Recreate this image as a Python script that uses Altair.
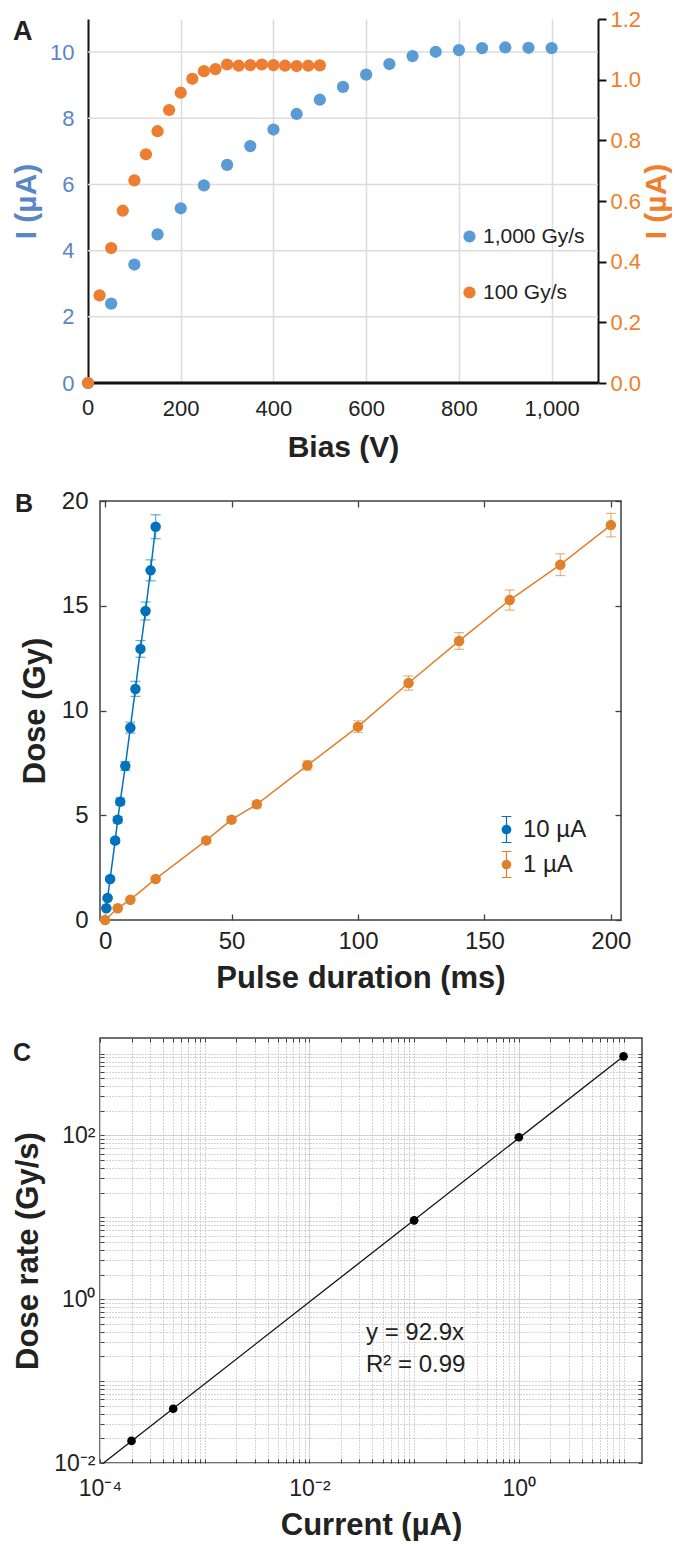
import altair as alt
import pandas as pd

FONT = "Liberation Sans"
TXT = "#222222"

# ---------------- Panel A data ----------------
bias_1000 = [0, 50, 100, 150, 200, 250, 300, 350, 400, 450, 500, 550, 600, 650, 700,
             750, 800, 850, 900, 950, 1000]
cur_1000 = [0.0, 2.40, 3.58, 4.49, 5.28, 5.97, 6.59, 7.16, 7.66, 8.13, 8.56, 8.95, 9.32,
            9.64, 9.88, 10.01, 10.06, 10.12, 10.14, 10.13, 10.12]
bias_100 = [0, 25, 50, 75, 100, 125, 150, 175, 200, 225, 250, 275, 300, 325, 350, 375,
            400, 425, 450, 475, 500]
cur_100 = [0.0, 0.289, 0.445, 0.568, 0.668, 0.754, 0.830, 0.900, 0.957, 1.003, 1.028,
           1.035, 1.050, 1.046, 1.048, 1.050, 1.048, 1.046, 1.045, 1.046, 1.047]
series_A = ["1,000 Gy/s", "100 Gy/s"]
bias_ticks = [0, 200, 400, 600, 800, 1000]
left_ticks = [0, 2, 4, 6, 8, 10]
right_ticks = [0.0, 0.2, 0.4, 0.6, 0.8, 1.0, 1.2]

# ---------------- Panel B data ----------------
dur_10 = [0.5, 1, 2, 4, 5, 6, 8, 10, 12, 14, 16, 18, 20]
dose_10 = [0.56, 1.05, 1.96, 3.79, 4.79, 5.65, 7.35, 9.18, 11.03, 12.94, 14.75, 16.69, 18.77]
err_10 = [0.04, 0.05, 0.08, 0.12, 0.15, 0.17, 0.21, 0.26, 0.36, 0.40, 0.43, 0.50, 0.57]
dur_1 = [0, 5, 10, 20, 40, 50, 60, 80, 100, 120, 140, 160, 180, 200]
dose_1 = [0.0, 0.56, 0.97, 1.96, 3.80, 4.79, 5.52, 7.38, 9.23, 11.31, 13.32, 15.27, 16.96, 18.85]
err_1 = [0.02, 0.03, 0.04, 0.07, 0.12, 0.15, 0.17, 0.22, 0.28, 0.34, 0.40, 0.48, 0.52, 0.56]
series_B = ["10 µA", "1 µA"]
dur_ticks = [0, 50, 100, 150, 200]
dose_ticks = [0, 5, 10, 15, 20]

# ---------------- Panel C data ----------------
current = [2e-4, 5e-4, 0.1, 1.0, 10.0]
rate = [0.0186, 0.046, 9.2, 95.0, 925.0]
fit_current = [1.08e-4, 10.0]
fit_rate = [0.01, 929.0]
fit_text = ["y = 92.9x", "R² = 0.99"]

# ====================== Panel A ======================
A_BLUE, A_ORANGE = "#5B9BD5", "#ED7D31"
A_BLUE_T, A_ORANGE_T = "#5A86C6", "#F07E2A"
GRID_A = "#dcdcdc"
SHIFT = 12            # panel A axis sits 12px left of the common origin
A_W = 498
PX_PER_V = (A_W + SHIFT) / 1100.0
X_MIN = SHIFT / PX_PER_V

dfA1 = pd.DataFrame({"bias": bias_1000, "cur": cur_1000, "series": series_A[0]})
dfA2 = pd.DataFrame({"bias": bias_100, "cur": cur_100, "series": series_A[1]})
dfGrid = pd.DataFrame({"x0": bias_ticks[0], "x1": 1100, "y": left_ticks[1:]})
dfBase = pd.DataFrame({"x0": [bias_ticks[0]], "x1": [1100], "y": [left_ticks[0]],
                       "lab": [str(bias_ticks[0])]})

colorA = alt.Color(
    "series:N",
    scale=alt.Scale(domain=series_A, range=[A_BLUE, A_ORANGE]),
    legend=alt.Legend(title=None, orient="none", legendX=359, legendY=207,
                      symbolType="circle", symbolSize=150, symbolOpacity=1,
                      symbolStrokeWidth=0, labelFont=FONT, labelFontSize=21,
                      labelColor=TXT, rowPadding=34, labelOffset=3, padding=0),
)
sxA = alt.Scale(domain=[X_MIN, 1100], nice=False, zero=False)
syA = alt.Scale(domain=[0, 11], nice=False)
axA_x = alt.Axis(values=bias_ticks[1:], format=",d", title="Bias (V)", grid=True,
                 gridColor=GRID_A, gridWidth=1.5, ticks=False, domain=False,
                 labelFont=FONT, labelFontSize=22, labelColor=TXT, labelPadding=15,
                 labelFlush=False, titleFont=FONT, titleFontSize=30,
                 titleFontWeight="bold", titleColor=TXT, titlePadding=13,
                 titleX=(A_W + SHIFT) / 2 - SHIFT)
axA_y = alt.Axis(orient="left", values=left_ticks, title="I (µA)", grid=False,
                 ticks=False, domainColor="#111", domainWidth=2, offset=SHIFT,
                 labelFont=FONT, labelFontSize=22, labelColor=A_BLUE_T, labelPadding=14,
                 titleFont=FONT, titleFontSize=30, titleFontWeight="bold",
                 titleColor=A_BLUE_T, titlePadding=8)


def xa(field):
    return alt.X(f"{field}:Q", scale=sxA, axis=axA_x)


def ya(field):
    return alt.Y(f"{field}:Q", scale=syA, axis=axA_y)


gridA = alt.Chart(dfGrid).mark_rule(color=GRID_A, strokeWidth=1.5).encode(
    x=xa("x0"), x2="x1:Q", y=ya("y"))
baseA = alt.Chart(dfBase).mark_rule(color="#111", strokeWidth=3).encode(
    x=xa("x0"), x2="x1:Q", y=ya("y"))
zeroLab = alt.Chart(dfBase).mark_text(font=FONT, fontSize=22, color=TXT, baseline="top",
                                      align="center", dy=15).encode(
    x=xa("x0"), y=ya("y"), text="lab:N")
blueA = alt.Chart(dfA1).mark_circle(size=150, opacity=1).encode(
    x=xa("bias"), y=ya("cur"), color=colorA)
letterA = alt.Chart(pd.DataFrame({"t": ["A"]})).mark_text(
    font=FONT, fontSize=27, fontWeight="bold", align="left", baseline="alphabetic",
    color=TXT).encode(text="t:N", x=alt.value(-87), y=alt.value(21))
leftA = alt.layer(gridA, baseA, zeroLab, blueA, letterA)

orangeA = alt.Chart(dfA2).mark_circle(size=150, opacity=1).encode(
    x=xa("bias"),
    y=alt.Y("cur:Q", scale=alt.Scale(domain=[0, 1.2], nice=False),
            axis=alt.Axis(orient="right", values=right_ticks, format=".1f", title="I (µA)",
                          grid=False, ticks=True, tickColor="#111", tickWidth=2, tickSize=8,
                          domainColor="#111", domainWidth=2, labelFont=FONT,
                          labelFontSize=22, labelColor=A_ORANGE_T, labelPadding=4,
                          titleFont=FONT, titleFontSize=30, titleFontWeight="bold",
                          titleColor=A_ORANGE_T, titleAngle=270, titleBaseline="top",
                          titlePadding=1)),
    color=colorA,
)

panelA = alt.layer(leftA, orangeA).resolve_scale(y="independent").properties(
    width=A_W, height=364)

# ====================== Panel B ======================
B_BLUE, B_ORANGE = "#0072BD", "#E0802A"
dfB = pd.concat([
    pd.DataFrame({"dur": dur_10, "dose": dose_10, "err": err_10, "series": series_B[0]}),
    pd.DataFrame({"dur": dur_1, "dose": dose_1, "err": err_1, "series": series_B[1]}),
], ignore_index=True)
dfB["lo"] = dfB["dose"] - dfB["err"]
dfB["hi"] = dfB["dose"] + dfB["err"]

ERR_SYM = ("M0.36,0A0.36,0.36,0,1,1,-0.36,0A0.36,0.36,0,1,1,0.36,0Z"
           "M-0.045,-1L0.045,-1L0.045,1L-0.045,1Z"
           "M-0.36,-1L0.36,-1L0.36,-0.92L-0.36,-0.92Z"
           "M-0.36,0.92L0.36,0.92L0.36,1L-0.36,1Z")
legendB = alt.Legend(title=None, orient="none", legendX=393, legendY=315,
                     symbolType=ERR_SYM, symbolSize=729, symbolOpacity=1,
                     symbolStrokeWidth=0, labelFont=FONT, labelFontSize=24,
                     labelColor=TXT, rowPadding=8, labelOffset=3, padding=0)
colorB = alt.Color("series:N", scale=alt.Scale(domain=series_B, range=[B_BLUE, B_ORANGE]),
                   legend=legendB)
sxB = alt.Scale(domain=[-2, 204], nice=False, zero=False)
syB = alt.Scale(domain=[0, 20], nice=False)
FRAME = "#404040"
axB_x = alt.Axis(orient="bottom", values=dur_ticks, title="Pulse duration (ms)", grid=False,
                 domain=False, ticks=True, tickSize=6, tickColor=FRAME, tickWidth=1.3,
                 offset=-6, labelFont=FONT, labelFontSize=24, labelColor=TXT,
                 labelPadding=9, labelFlush=False, titleFont=FONT, titleFontSize=31,
                 titleFontWeight="bold", titleColor=TXT, titlePadding=10)
axB_y = alt.Axis(orient="left", values=dose_ticks, title="Dose (Gy)", grid=False,
                 domain=False, ticks=True, tickSize=6, tickColor=FRAME, tickWidth=1.3,
                 offset=-6, labelFont=FONT, labelFontSize=24, labelColor=TXT,
                 labelPadding=12, titleFont=FONT, titleFontSize=31,
                 titleFontWeight="bold", titleColor=TXT, titlePadding=10)


def xb():
    return alt.X("dur:Q", scale=sxB, axis=axB_x)


def yb(field):
    return alt.Y(f"{field}:Q", scale=syB, axis=axB_y)


baseB = alt.Chart(dfB)
linesB = baseB.mark_line(strokeWidth=1.5).encode(x=xb(), y=yb("dose"), color=colorB)
barsB = baseB.mark_rule(strokeWidth=1.2, opacity=0.6).encode(
    x=xb(), y=yb("lo"), y2="hi:Q", color=colorB)
capLoB = baseB.mark_tick(orient="horizontal", size=10, thickness=1.2, opacity=0.6).encode(
    x=xb(), y=yb("lo"), color=colorB)
capHiB = baseB.mark_tick(orient="horizontal", size=10, thickness=1.2, opacity=0.6).encode(
    x=xb(), y=yb("hi"), color=colorB)
ptsB = baseB.mark_circle(size=110, opacity=1).encode(x=xb(), y=yb("dose"), color=colorB)
letterB = alt.Chart(pd.DataFrame({"t": ["B"]})).mark_text(
    font=FONT, fontSize=25, fontWeight="bold", align="left", baseline="alphabetic",
    color=TXT).encode(text="t:N", x=alt.value(-85), y=alt.value(11))
mainB = alt.layer(linesB, barsB, capLoB, capHiB, ptsB, letterB)
ticksB = baseB.mark_point(opacity=0).encode(
    x=alt.X("dur:Q", scale=sxB,
            axis=alt.Axis(orient="top", values=dur_ticks, labels=False, title=None,
                          domain=False, grid=False, tickSize=6, tickColor=FRAME,
                          tickWidth=1.3, offset=-6)),
    y=alt.Y("dose:Q", scale=syB,
            axis=alt.Axis(orient="right", values=dose_ticks, labels=False, title=None,
                          domain=False, grid=False, tickSize=6, tickColor=FRAME,
                          tickWidth=1.3, offset=-6)),
)
panelB = alt.layer(mainB, ticksB).resolve_axis(x="independent", y="independent").properties(
    width=521, height=419, view=alt.ViewBackground(stroke=FRAME, strokeWidth=1.5))

# ====================== Panel C ======================
dfC = pd.DataFrame({"cur": current, "rate": rate})
dfFit = pd.DataFrame({"cur": fit_current, "rate": fit_rate})

x_vals = [k * 10.0 ** e for e in range(-4, 2) for k in range(1, 10) if k * 10.0 ** e <= 15]
y_vals = [k * 10.0 ** e for e in range(-2, 4) for k in range(1, 10) if k * 10.0 ** e <= 1550]
L10 = "(log(datum.value)/LN10)"
MAJ = f"abs({L10}/2 - round({L10}/2)) < 0.001"
LAB = (f"{MAJ} ? (round({L10}) == -4 ? '10⁻⁴' : round({L10}) == -2 ? '10⁻²' : "
       f"round({L10}) == 0 ? '10⁰' : round({L10}) == 2 ? '10²' : '') : ''")
grid_dash = {"condition": {"test": MAJ, "value": []}, "value": [1, 2]}
grid_col = {"condition": {"test": MAJ, "value": "#d0d0d0"}, "value": "#a8a8a8"}

sxC = alt.Scale(type="log", domain=[1e-4, 15], nice=False)
syC = alt.Scale(type="log", domain=[0.01, 1550], nice=False)
axC_x = alt.Axis(orient="bottom", values=x_vals, labelExpr=LAB, title="Current (µA)",
                 grid=True, gridDash=grid_dash, gridColor=grid_col, gridWidth=1,
                 domain=False, ticks=True, tickSize=4, tickColor=FRAME, tickWidth=1,
                 offset=-4, labelOverlap=False, labelFlush=False, labelFont=FONT,
                 labelFontSize=23, labelColor=TXT, labelPadding=14, titleFont=FONT,
                 titleFontSize=31, titleFontWeight="bold", titleColor=TXT,
                 titlePadding=10)
axC_y = alt.Axis(orient="left", values=y_vals, labelExpr=LAB, title="Dose rate (Gy/s)",
                 grid=True, gridDash=grid_dash, gridColor=grid_col, gridWidth=1,
                 domain=False, ticks=True, tickSize=4, tickColor=FRAME, tickWidth=1,
                 offset=-4, labelOverlap=False, labelFlush=False, labelFont=FONT,
                 labelFontSize=23, labelColor=TXT, labelPadding=5, titleFont=FONT,
                 titleFontSize=31, titleFontWeight="bold", titleColor=TXT,
                 titlePadding=9)

lineC = alt.Chart(dfFit).mark_line(color="#111", strokeWidth=1.3).encode(
    x=alt.X("cur:Q", scale=sxC, axis=axC_x), y=alt.Y("rate:Q", scale=syC, axis=axC_y))
ptsC = alt.Chart(dfC).mark_circle(size=75, opacity=1, color="#000").encode(
    x=alt.X("cur:Q", scale=sxC, axis=axC_x), y=alt.Y("rate:Q", scale=syC, axis=axC_y))
txt1 = alt.Chart(pd.DataFrame({"t": [fit_text[0]]})).mark_text(
    font=FONT, fontSize=24, align="left", baseline="alphabetic", color=TXT).encode(
    text="t:N", x=alt.value(266), y=alt.value(302))
txt2 = alt.Chart(pd.DataFrame({"t": [fit_text[1]]})).mark_text(
    font=FONT, fontSize=24, align="left", baseline="alphabetic", color=TXT).encode(
    text="t:N", x=alt.value(266), y=alt.value(334))
letterC = alt.Chart(pd.DataFrame({"t": ["C"]})).mark_text(
    font=FONT, fontSize=25, fontWeight="bold", align="left", baseline="alphabetic",
    color=TXT).encode(text="t:N", x=alt.value(-87), y=alt.value(23))
mainC = alt.layer(lineC, ptsC, txt1, txt2, letterC)
ticksC = alt.Chart(dfC).mark_point(opacity=0).encode(
    x=alt.X("cur:Q", scale=sxC,
            axis=alt.Axis(orient="top", values=x_vals, labels=False, title=None,
                          domain=False, grid=False, tickSize=4, tickColor=FRAME,
                          tickWidth=1, offset=-4)),
    y=alt.Y("rate:Q", scale=syC,
            axis=alt.Axis(orient="right", values=y_vals, labels=False, title=None,
                          domain=False, grid=False, tickSize=4, tickColor=FRAME,
                          tickWidth=1, offset=-4)),
)
panelC = alt.layer(mainC, ticksC).resolve_axis(x="independent", y="independent").properties(
    width=542, height=425, view=alt.ViewBackground(stroke=FRAME, strokeWidth=1.5))

# ====================== Layout ======================
inner = alt.vconcat(panelB, panelC, spacing=42).resolve_scale(color="independent")
chart = alt.vconcat(panelA, inner, spacing=26).resolve_scale(color="independent").properties(
    padding={"left": 3, "top": 0, "right": 0, "bottom": 0}
).configure(font=FONT).configure_view(stroke=None)

chart.save("out.html", embed_options={"renderer": "svg", "actions": False})
